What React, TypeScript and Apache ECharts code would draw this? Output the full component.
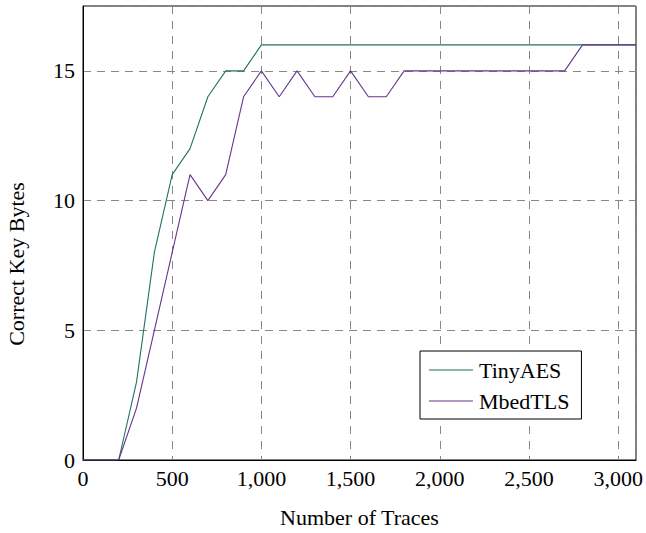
import React, { useEffect, useRef } from "react";
import * as echarts from "echarts";

const traces = [0, 100, 200, 300, 400, 500, 600, 700, 800, 900, 1000, 1100, 1200, 1300, 1400, 1500, 1600, 1700, 1800, 1900, 2000, 2100, 2200, 2300, 2400, 2500, 2600, 2700, 2800, 2900, 3000, 3100];
const tinyAES = [0, 0, 0, 3, 8, 11, 12, 14, 15, 15, 16, 16, 16, 16, 16, 16, 16, 16, 16, 16, 16, 16, 16, 16, 16, 16, 16, 16, 16, 16, 16, 16];
const mbedTLS = [0, 0, 0, 2, 5, 8, 11, 10, 11, 14, 15, 14, 15, 14, 14, 15, 14, 14, 15, 15, 15, 15, 15, 15, 15, 15, 15, 15, 16, 16, 16, 16];
const seriesNames = ["TinyAES", "MbedTLS"];
const xTitle = "Number of Traces";
const yTitle = "Correct Key Bytes";

const FONT = "Liberation Serif";
const FS = 22;

export default function App() {
  const ref = useRef<HTMLDivElement>(null);
  useEffect(() => {
    const chart = echarts.init(ref.current!, null, { renderer: "svg" });
    const toPairs = (ys: number[]) => traces.map((x, i) => [x, ys[i]]);
    chart.setOption({
      animation: false,
      textStyle: { fontFamily: FONT },
      grid: {
        left: 83,
        right: 10,
        top: 6,
        bottom: 67,
        show: true,
        borderColor: "#000",
        borderWidth: 1,
      },
      legend: {
        orient: "vertical",
        left: 420,
        top: 351,
        padding: [8, 12, 7, 9],
        itemGap: 9,
        itemWidth: 44,
        itemHeight: 1,
        icon: "rect",
        borderColor: "#000",
        borderWidth: 1,
        borderRadius: 0,
        backgroundColor: "#fff",
        textStyle: { fontFamily: FONT, fontSize: FS, color: "#000", padding: [0, 0, 0, 1] },
        data: seriesNames,
      },
      graphic: [
        {
          type: "text",
          x: 16,
          y: 264,
          rotation: Math.PI / 2,
          style: {
            text: yTitle,
            fontFamily: FONT,
            fontSize: FS,
            fill: "#000",
            align: "center",
            verticalAlign: "middle",
          },
        },
      ],
      xAxis: {
        type: "value",
        min: 0,
        max: 3100,
        interval: 500,
        name: xTitle,
        nameLocation: "middle",
        nameGap: 46,
        nameTextStyle: { fontFamily: FONT, fontSize: FS, color: "#000" },
        axisLine: { show: true, lineStyle: { color: "#000", width: 1 } },
        axisTick: { show: false },
        axisLabel: {
          fontFamily: FONT,
          fontSize: FS,
          color: "#000",
          margin: 7,
          formatter: (v: number) => (v % 500 === 0 ? v.toLocaleString("en-US") : ""),
        },
        splitLine: { show: true, lineStyle: { color: "#888", type: [8, 7], width: 1 } },
      },
      yAxis: {
        type: "value",
        min: 0,
        max: 17.5,
        interval: 5,
        axisLine: { show: true, lineStyle: { color: "#000", width: 1 } },
        axisTick: { show: false },
        axisLabel: {
          fontFamily: FONT,
          fontSize: FS,
          color: "#000",
          margin: 8,
          formatter: (v: number) => (v % 5 === 0 ? String(v) : ""),
        },
        splitLine: { show: true, lineStyle: { color: "#888", type: [8, 6], width: 1 } },
      },
      series: [
        {
          name: seriesNames[0],
          type: "line",
          data: toPairs(tinyAES),
          symbol: "none",
          lineStyle: { color: "#1f7360", width: 1.1 },
          itemStyle: { color: "#1f7360" },
        },
        {
          name: seriesNames[1],
          type: "line",
          data: toPairs(mbedTLS),
          symbol: "none",
          lineStyle: { color: "#64358a", width: 1.1 },
          itemStyle: { color: "#64358a" },
        },
      ],
    });
    return () => chart.dispose();
  }, []);
  return (
    <div
      ref={ref}
      style={{ position: "absolute", left: 0, top: 0, width: 646, height: 533, background: "#fff" }}
    />
  );
}
